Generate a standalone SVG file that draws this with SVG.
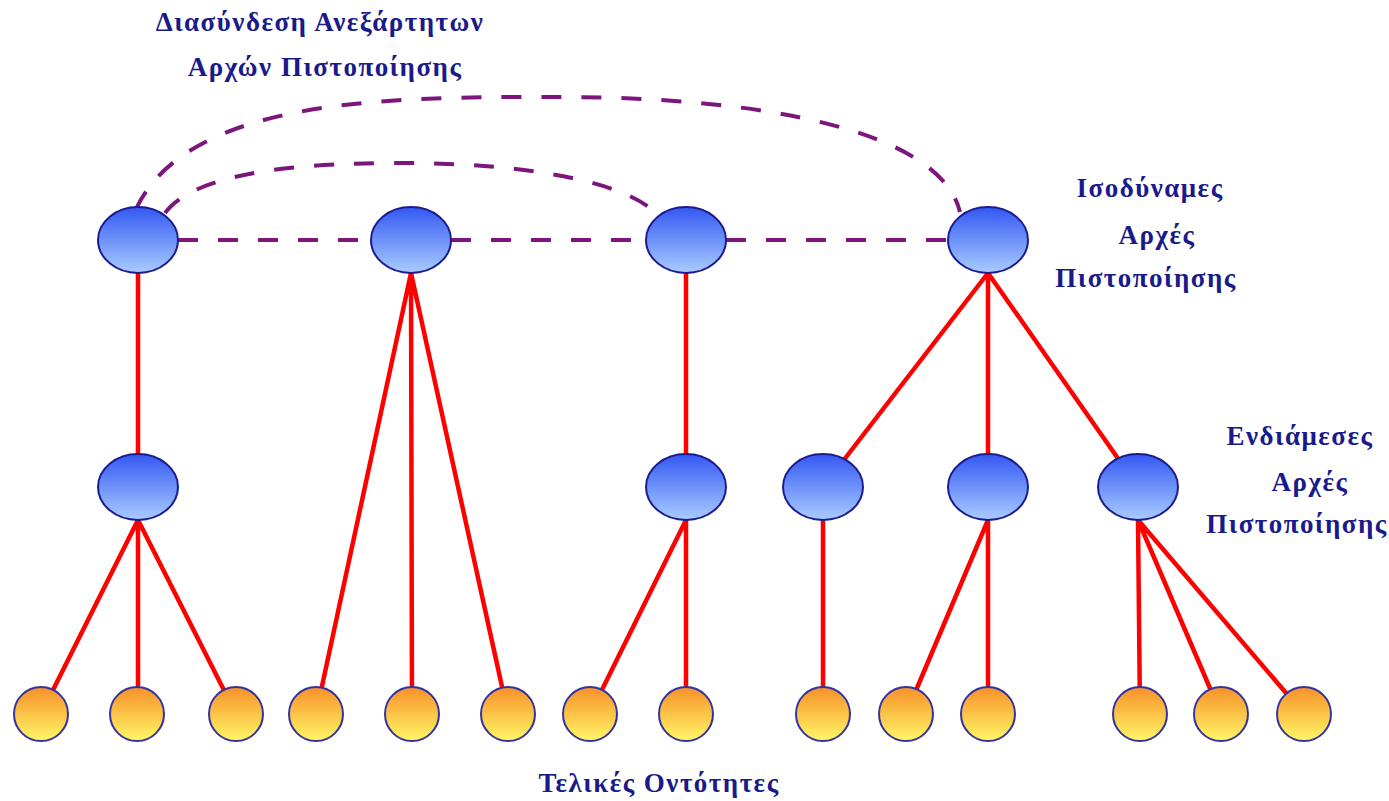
<svg xmlns="http://www.w3.org/2000/svg" width="1389" height="801" viewBox="0 0 1389 801">
  <defs>
    <linearGradient id="gBlue" x1="0" y1="0" x2="0" y2="1">
      <stop offset="0" stop-color="#3358f2"/>
      <stop offset="1" stop-color="#a9ccff"/>
    </linearGradient>
    <linearGradient id="gSun" x1="0" y1="0" x2="0" y2="1">
      <stop offset="0" stop-color="#f8902a"/>
      <stop offset="1" stop-color="#fff766"/>
    </linearGradient>
    <style>
      .ca { fill: url(#gBlue); stroke: #1c1c8e; stroke-width: 2; }
      .ee { fill: url(#gSun); stroke: #3434a0; stroke-width: 2; }
      .tree { stroke: #ff0000; stroke-width: 4.5; fill: none; stroke-linecap: round; }
      .peer { stroke: #7c167c; stroke-width: 4; fill: none; stroke-dasharray: 20 20; }
      .lbl { font-family: "Liberation Serif", "Times New Roman", serif; font-weight: bold; font-size: 27px; letter-spacing: 1.5px; fill: #1a1a8a; text-anchor: middle; }
    </style>
  </defs>

  <!-- connectors -->
  <g id="connectors">
    <!-- cross-certification links between root CAs -->
    <path class="peer" d="M178 240 H372 M451 240 H646 M726 240 H948"/>
    <path class="peer" d="M136 209 C190 95 400 97 560 97 C760 97 940 130 960 212"/>
    <path class="peer" d="M165 213 C200 165 340 163 400 163 C520 163 620 180 655 212"/>
    <!-- hierarchy -->
    <path class="tree" d="M138 273 V455"/>
    <path class="tree" d="M138 520 L41 714 M138 520 V714 M138 520 L236 714"/>
    <path class="tree" d="M411 273 L316 714 M411 273 L412 714 M411 273 L508 714"/>
    <path class="tree" d="M686 273 V455"/>
    <path class="tree" d="M686 520 L590 714 M686 520 V714"/>
    <path class="tree" d="M988 273 L823 487 M988 273 V487 M988 273 L1138 487"/>
    <path class="tree" d="M823 520 V714"/>
    <path class="tree" d="M988 520 L906 714 M988 520 V714"/>
    <path class="tree" d="M1138 520 L1140 714 M1138 520 L1221 714 M1138 520 L1304 714"/>
  </g>

  <!-- root certification authorities -->
  <g id="root-1"><ellipse class="ca" cx="138" cy="240" rx="40" ry="33"/></g>
  <g id="root-2"><ellipse class="ca" cx="411" cy="240" rx="40" ry="33"/></g>
  <g id="root-3"><ellipse class="ca" cx="686" cy="240" rx="40" ry="33"/></g>
  <g id="root-4"><ellipse class="ca" cx="988" cy="240" rx="40" ry="33"/></g>

  <!-- intermediate certification authorities -->
  <g id="mid-1"><ellipse class="ca" cx="138" cy="487" rx="40" ry="33"/></g>
  <g id="mid-2"><ellipse class="ca" cx="686" cy="487" rx="40" ry="33"/></g>
  <g id="mid-3"><ellipse class="ca" cx="823" cy="487" rx="40" ry="33"/></g>
  <g id="mid-4"><ellipse class="ca" cx="988" cy="487" rx="40" ry="33"/></g>
  <g id="mid-5"><ellipse class="ca" cx="1138" cy="487" rx="40" ry="33"/></g>

  <!-- end entities -->
  <g id="ee-1"><circle class="ee" cx="41" cy="714" r="27"/></g>
  <g id="ee-2"><circle class="ee" cx="137" cy="714" r="27"/></g>
  <g id="ee-3"><circle class="ee" cx="236" cy="714" r="27"/></g>
  <g id="ee-4"><circle class="ee" cx="316" cy="714" r="27"/></g>
  <g id="ee-5"><circle class="ee" cx="412" cy="714" r="27"/></g>
  <g id="ee-6"><circle class="ee" cx="508" cy="714" r="27"/></g>
  <g id="ee-7"><circle class="ee" cx="590" cy="714" r="27"/></g>
  <g id="ee-8"><circle class="ee" cx="686" cy="714" r="27"/></g>
  <g id="ee-9"><circle class="ee" cx="823" cy="714" r="27"/></g>
  <g id="ee-10"><circle class="ee" cx="906" cy="714" r="27"/></g>
  <g id="ee-11"><circle class="ee" cx="988" cy="714" r="27"/></g>
  <g id="ee-12"><circle class="ee" cx="1140" cy="714" r="27"/></g>
  <g id="ee-13"><circle class="ee" cx="1221" cy="714" r="27"/></g>
  <g id="ee-14"><circle class="ee" cx="1304" cy="714" r="27"/></g>

  <!-- labels -->
  <g id="labels">
    <text class="lbl" x="320" y="31">Διασύνδεση Ανεξάρτητων</text>
    <text class="lbl" x="325" y="76">Αρχών Πιστοποίησης</text>
    <text class="lbl" x="1150" y="197">Ισοδύναμες</text>
    <text class="lbl" x="1157" y="244">Αρχές</text>
    <text class="lbl" x="1146" y="287">Πιστοποίησης</text>
    <text class="lbl" x="1300" y="445">Ενδιάμεσες</text>
    <text class="lbl" x="1310" y="491">Αρχές</text>
    <text class="lbl" x="1297" y="533">Πιστοποίησης</text>
    <text class="lbl" x="659" y="792">Τελικές Οντότητες</text>
  </g>
</svg>
